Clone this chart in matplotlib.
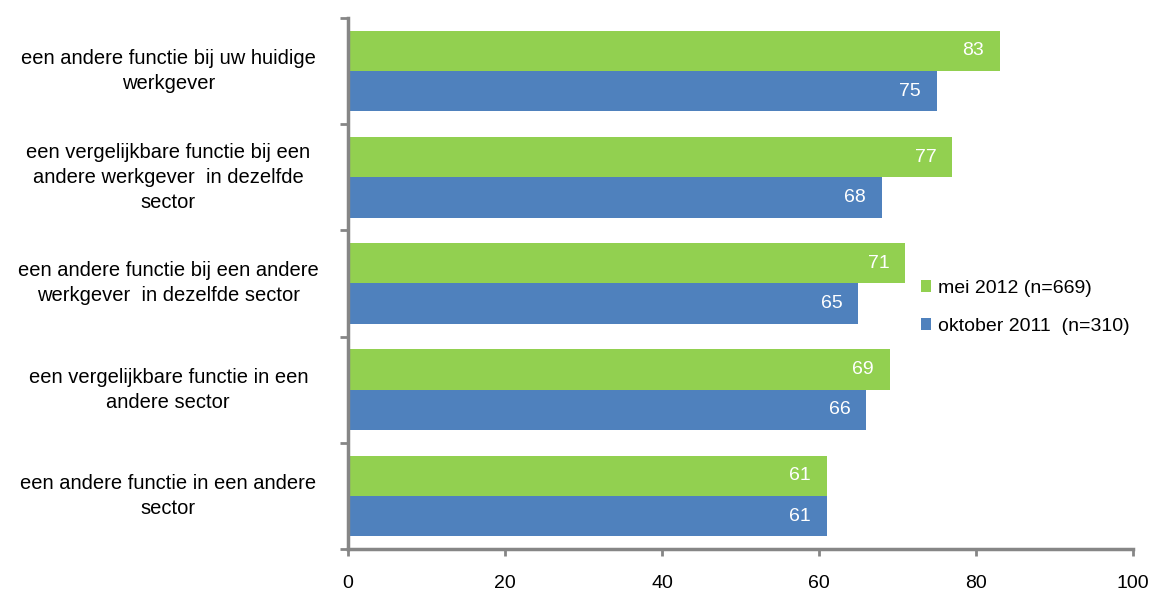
import numpy as np
from matplotlib import pyplot as plt
from matplotlib import transforms

plt.rcParams['font.family'] = ['Liberation Sans', 'DejaVu Sans']

categorieen = [
    'een andere functie bij uw huidige\nwerkgever',
    'een vergelijkbare functie bij een\nandere werkgever  in dezelfde\nsector',
    'een andere functie bij een andere\nwerkgever  in dezelfde sector',
    'een vergelijkbare functie in een\nandere sector',
    'een andere functie in een andere\nsector',
]
mei_2012 = [83, 77, 71, 69, 61]
okt_2011 = [75, 68, 65, 66, 61]
reeksen = ['mei 2012 (n=669)', 'oktober 2011  (n=310)']

groen = '#92D050'
blauw = '#4F81BD'
grijs = '#868686'

fig = plt.figure(figsize=(11.49, 5.94), dpi=100)
ax = fig.add_axes([0.3029, 0.0758, 0.6832, 0.8939])

n = len(categorieen)
y = np.arange(n)
h = 0.38
ax.barh(y - h / 2, mei_2012, height=h, color=groen, label=reeksen[0])
ax.barh(y + h / 2, okt_2011, height=h, color=blauw, label=reeksen[1])

# waarden wit aan het einde van elke balk
for i in range(n):
    for waarde, pos in ((mei_2012[i], y[i] - h / 2), (okt_2011[i], y[i] + h / 2)):
        ax.text(waarde - 2.0, pos, str(waarde), color='white', fontsize=14,
                ha='right', va='center')

ax.set_ylim(n - 0.5, -0.5)
ax.set_xlim(0, 100)
ax.set_xticks(np.arange(0, 101, 20))
ax.tick_params(axis='x', direction='out', length=5, width=2, color=grijs,
               labelsize=14, pad=14)

# tickstreepjes op de grenzen tussen categorieën
ax.set_yticks(np.arange(-0.5, n, 1.0))
ax.set_yticklabels([])
ax.tick_params(axis='y', direction='out', length=6, width=2, color=grijs)

trans = transforms.blended_transform_factory(ax.transAxes, ax.transData)
for i, label in enumerate(categorieen):
    ax.text(-0.229, y[i], label, transform=trans, ha='center', va='center',
            multialignment='center', fontsize=14.5, linespacing=1.4)

for kant in ['top', 'right']:
    ax.spines[kant].set_visible(False)
for kant in ['left', 'bottom']:
    ax.spines[kant].set_color(grijs)
    ax.spines[kant].set_linewidth(2.5)

ax.legend(loc='center left', bbox_to_anchor=(0.707, 0.455), frameon=False,
          fontsize=14, handlelength=0.55, handleheight=0.55, handletextpad=0.35,
          labelspacing=1.05)

fig.savefig('out.png', dpi=100)
